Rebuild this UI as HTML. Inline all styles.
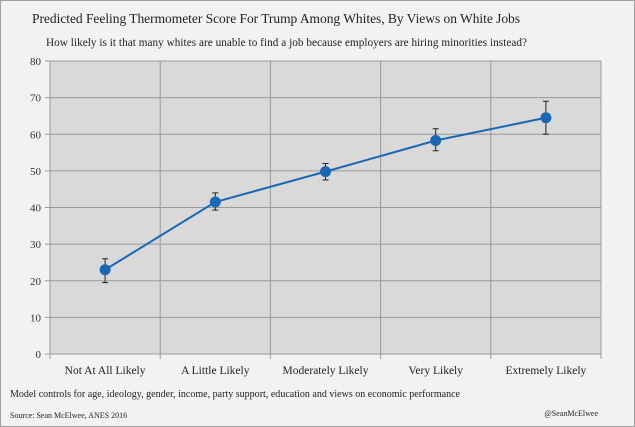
<!DOCTYPE html>
<html><head><meta charset="utf-8"><style>
body{margin:0;width:635px;height:427px;overflow:hidden;background:#f2f2f2;}
svg{display:block;font-family:"Liberation Serif",serif;}
</style></head><body>
<svg width="635" height="427">
<rect x="0.5" y="0.5" width="634" height="426" fill="#f2f2f2" stroke="#a0a0a0"/>
<text x="32" y="23" font-size="13.5" fill="#222" textLength="488">Predicted Feeling Thermometer Score For Trump Among Whites, By Views on White Jobs</text>
<text x="46" y="46" font-size="11.2" fill="#222" textLength="481">How likely is it that many whites are unable to find a job because employers are hiring minorities instead?</text>
<g id="plot"></g>
<text x="10" y="397" font-size="10" fill="#222" textLength="450">Model controls for age, ideology, gender, income, party support, education and views on economic performance</text>
<text x="10" y="418" font-size="8" fill="#222">Source: Sean McElwee, ANES 2016</text>
<text x="598" y="416" font-size="8" fill="#222" text-anchor="end">@SeanMcElwee</text>
</svg>
<script>
const categories=["Not At All Likely","A Little Likely","Moderately Likely","Very Likely","Extremely Likely"];
const values=[23,41.5,49.8,58.3,64.5];
const lower=[19.5,39.3,47.5,55.5,60];
const upper=[26,44,52,61.5,69];
const yTicks=[0,10,20,30,40,50,60,70,80];
const NS="http://www.w3.org/2000/svg";
const g=document.getElementById('plot');
const L=50,R=601,T=61,B=354,yMax=80;
const bw=(R-L)/categories.length;
const y=v=>B-(v/yMax)*(B-T);
const x=i=>L+bw*(i+0.5);
function mk(t,a){const e=document.createElementNS(NS,t);for(const k in a)e.setAttribute(k,a[k]);g.appendChild(e);return e;}
let e=mk('rect',{x:L,y:T,width:R-L,height:B-T,fill:'#d9d9d9'});


yTicks.forEach(t=>{
 let l=mk('line',{x1:L-5,x2:R,y1:y(t),y2:y(t),stroke:'#9a9a9a','stroke-width':1});
 
 
 let tx=mk('text',{x:L-9,y:y(t)+4,'font-size':11,'text-anchor':'end',fill:'#333'});
 tx.textContent=t;
 
 
});
for(let i=0;i<=categories.length;i++){
 let l=mk('line',{x1:L+bw*i,x2:L+bw*i,y1:T,y2:B+5,stroke:'#9a9a9a','stroke-width':1});
 
 
}
categories.forEach((c,i)=>{
 let tx=mk('text',{x:x(i),y:B+20,'font-size':11.5,'text-anchor':'middle',fill:'#222'});
 tx.textContent=c;
 
 
});
let p=mk('polyline',{points:values.map((v,i)=>x(i)+','+y(v)).join(' '),fill:'none',stroke:'#1a68b5','stroke-width':2});


values.forEach((v,i)=>{
 let eb=mk('path',{d:`M${x(i)},${y(lower[i])}V${y(upper[i])}M${x(i)-3},${y(lower[i])}h6M${x(i)-3},${y(upper[i])}h6`,stroke:'#222','stroke-width':1,fill:'none'});
 
 
 let c=mk('circle',{cx:x(i),cy:y(v),r:5.5,fill:'#1a68b5'});
 
 
});
</script>
</body></html>
